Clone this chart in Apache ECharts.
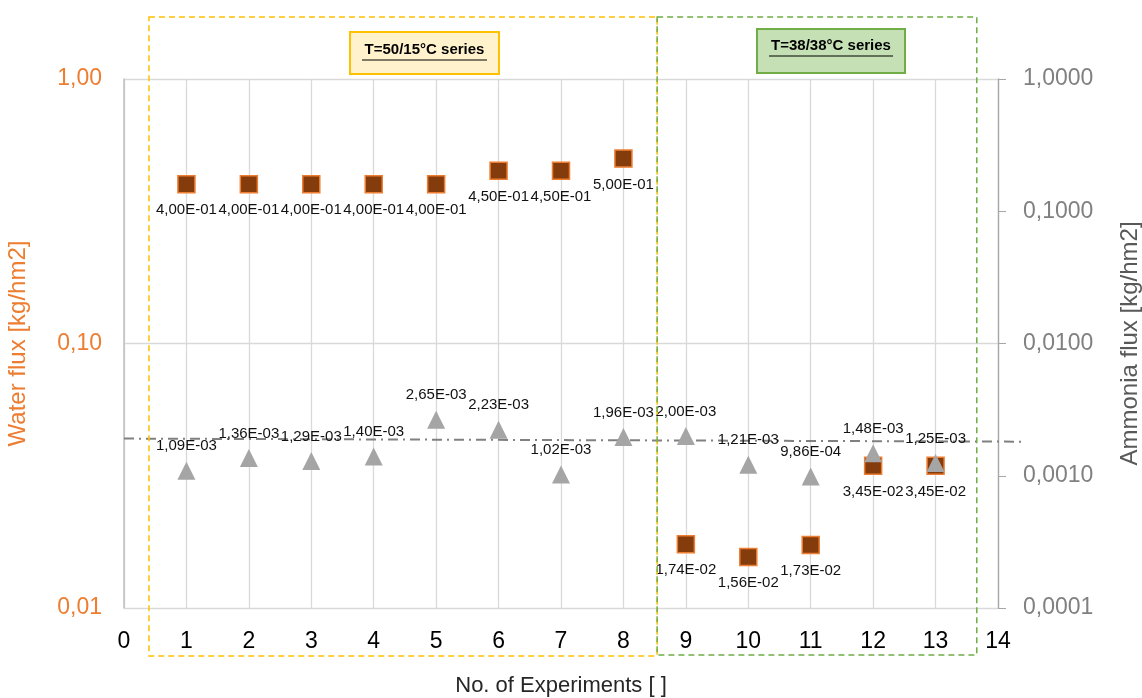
<!DOCTYPE html>
<html><head><meta charset="utf-8">
<script src="https://cdn.jsdelivr.net/npm/echarts@6/dist/echarts.min.js"></script>
<style>html,body{margin:0;padding:0;background:#fff}#c{width:1142px;height:698px}</style>
</head><body><div id="c"></div>
<script>
const experiments = [1,2,3,4,5,6,7,8,9,10,11,12,13];
const waterFlux = [0.40,0.40,0.40,0.40,0.40,0.45,0.45,0.50,0.0174,0.0156,0.0173,0.0345,0.0345];
const ammoniaFlux = [1.09e-3,1.36e-3,1.29e-3,1.40e-3,2.65e-3,2.23e-3,1.02e-3,1.96e-3,2.00e-3,1.21e-3,9.86e-4,1.48e-3,1.25e-3];
const trendX = [0, 14.43];
const trendY = [1.91e-3, 1.81e-3];
const leftTicks = ['1,00','0,10','0,01'];
const rightTicks = ['1,0000','0,1000','0,0100','0,0010','0,0001'];
const seriesBoxes = ['T=50/15°C series','T=38/38°C series'];

const FONT = '"Liberation Sans", Arial, sans-serif';
function sci(v){
  let e = Math.floor(Math.log10(v) + 1e-9);
  let m = v / Math.pow(10, e);
  if (m >= 9.995) { m /= 10; e += 1; }
  const es = (e < 0 ? '-' : '+') + String(Math.abs(e)).padStart(2,'0');
  return m.toFixed(2).replace('.', ',') + 'E' + es;
}
const chart = echarts.init(document.getElementById('c'));
const option = {
  animation: false,
  backgroundColor: '#fff',
  grid: { left: 124, right: 144, top: 79, bottom: 90, outerBoundsMode: 'none', containLabel: false },
  xAxis: {
    type: 'value', min: 0, max: 14, interval: 1,
    name: 'No. of Experiments [ ]', nameLocation: 'middle', nameGap: 67,
    nameTextStyle: { color: '#262626', fontSize: 22, fontFamily: FONT },
    axisLine: { show: true, lineStyle: { color: '#d9d9d9' } },
    axisTick: { show: false },
    axisLabel: { color: '#000', fontSize: 23, fontFamily: FONT, margin: 22 },
    splitLine: { show: true, lineStyle: { color: '#d9d9d9', width: 1.3 } }
  },
  yAxis: [{
    type: 'log', logBase: 10, min: 0.01, max: 1, position: 'left',
    name: 'Water flux [kg/hm2]', nameLocation: 'middle', nameGap: 94,
    nameTextStyle: { color: '#ED7D31', fontSize: 24, fontFamily: FONT },
    axisLine: { show: true, lineStyle: { color: '#bfbfbf', width: 1.5 } },
    axisTick: { show: false },
    axisLabel: { color: '#ED7D31', fontSize: 23, fontFamily: FONT, margin: 22,
      formatter: v => { const i = Math.round(-Math.log10(v)); return leftTicks[i]; } },
    splitLine: { show: true, lineStyle: { color: '#d9d9d9', width: 1.3 } }
  },{
    type: 'log', logBase: 10, min: 0.0001, max: 1, position: 'right',
    name: 'Ammonia flux [kg/hm2]', nameLocation: 'middle', nameGap: 120, nameRotate: 90,
    nameTextStyle: { color: '#595959', fontSize: 24, fontFamily: FONT },
    axisLine: { show: true, lineStyle: { color: '#a6a6a6', width: 1.3 } },
    axisTick: { show: true, length: 8, lineStyle: { color: '#a6a6a6' } },
    axisLabel: { color: '#808080', fontSize: 23, fontFamily: FONT, margin: 25,
      formatter: v => { const i = Math.round(-Math.log10(v)); return rightTicks[i]; } },
    splitLine: { show: false }
  }],
  series: [{
    type: 'scatter', yAxisIndex: 0, name: 'Water flux',
    data: experiments.map((x,i) => [x, waterFlux[i]]),
    symbol: 'rect', symbolSize: 17,
    itemStyle: { color: '#843C0C', borderColor: '#ED7D31', borderWidth: 1.5, opacity: 1 },
    label: { show: true, position: 'bottom', distance: 9, color: '#111', fontSize: 15, fontFamily: FONT,
      formatter: p => sci(p.value[1]) },
    z: 3
  },{
    type: 'scatter', yAxisIndex: 1, name: 'Ammonia flux',
    data: experiments.map((x,i) => [x, ammoniaFlux[i]]),
    symbol: 'triangle', symbolSize: 18,
    itemStyle: { color: '#A5A5A5', opacity: 1 },
    label: { show: true, position: 'top', distance: 8, color: '#111', fontSize: 15, fontFamily: FONT,
      formatter: p => sci(p.value[1]) },
    z: 4
  }]
};
chart.setOption(option);

// trend line positioned through the axes
const trendPts = trendX.map((x,i) => chart.convertToPixel({ xAxisIndex: 0, yAxisIndex: 1 }, [x, trendY[i]]));
const px = v => chart.convertToPixel({ xAxisIndex: 0 }, v);
chart.setOption({
  graphic: [
    { type: 'polyline', shape: { points: trendPts }, z: 2, silent: true,
      style: { fill: 'none', stroke: '#808080', lineWidth: 2, lineDash: [10,5,2,5] } },
    { type: 'rect', shape: { x: px(0.4), y: 17, width: px(8.54) - px(0.4), height: 639 }, z: 10,
      style: { fill: 'none', stroke: '#FFC000', lineWidth: 1.5, lineDash: [6,4] } },
    { type: 'rect', shape: { x: px(8.54), y: 17, width: px(13.66) - px(8.54), height: 638 }, z: 10,
      style: { fill: 'none', stroke: '#70AD47', lineWidth: 1.5, lineDash: [6,4] } },
    { type: 'rect', shape: { x: 350, y: 32, width: 149, height: 42 }, z: 11,
      style: { fill: '#FFF2CC', stroke: '#FFC000', lineWidth: 2 } },
    { type: 'text', x: 424.5, y: 50, z: 12,
      style: { text: seriesBoxes[0], fill: '#000', font: 'bold 15px ' + FONT, textAlign: 'center', textVerticalAlign: 'middle' } },
    { type: 'line', shape: { x1: 362, y1: 60, x2: 487, y2: 60 }, z: 12, style: { stroke: '#000', lineWidth: 1.2 } },
    { type: 'rect', shape: { x: 757, y: 29, width: 148, height: 44 }, z: 11,
      style: { fill: '#C5E0B4', stroke: '#70AD47', lineWidth: 2 } },
    { type: 'text', x: 831, y: 46, z: 12,
      style: { text: seriesBoxes[1], fill: '#000', font: 'bold 15px ' + FONT, textAlign: 'center', textVerticalAlign: 'middle' } },
    { type: 'line', shape: { x1: 769, y1: 56, x2: 893, y2: 56 }, z: 12, style: { stroke: '#000', lineWidth: 1.2 } }
  ]
});
</script></body></html>
